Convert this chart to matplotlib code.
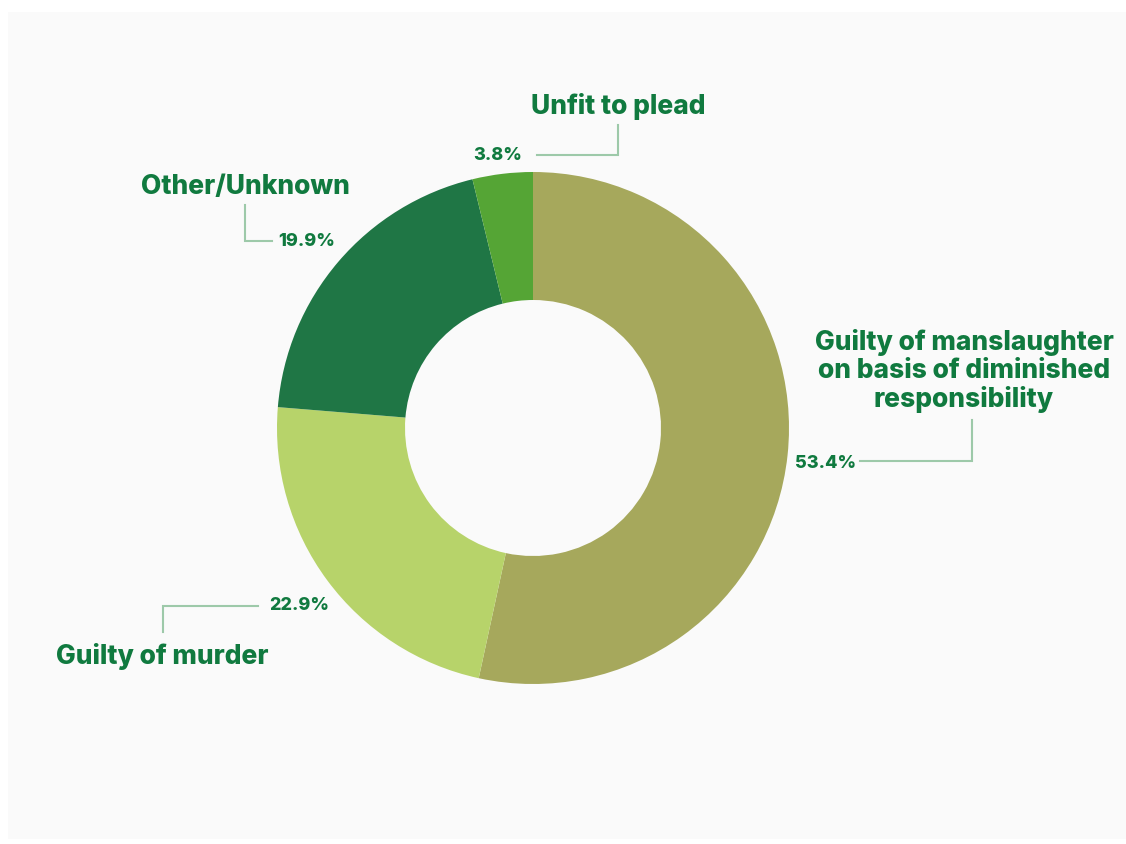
import matplotlib
matplotlib.use("Agg")
import matplotlib.pyplot as plt
from matplotlib.patches import Rectangle

plt.rcParams['font.family'] = ['Inter', 'DejaVu Sans']

# data (clockwise from 12 o'clock)
categories = ["Guilty of manslaughter\non basis of diminished\nresponsibility",
              "Guilty of murder", "Other/Unknown", "Unfit to plead"]
shares = [53.4, 22.9, 19.9, 3.8]
pct_labels = ["53.4%", "22.9%", "19.9%", "3.8%"]
colors = ["#a6a85c", "#b7d36a", "#1f7645", "#55a535"]

W, H = 1126, 844
txt_col = "#107a3f"
line_col = "#9dc9a9"

def py(y):
    # pixel row (from top) -> data y
    return H - y

fig = plt.figure(figsize=(W / 100, H / 100), dpi=100)
fig.patch.set_facecolor("white")
ax = fig.add_axes([0, 0, 1, 1])

ax.add_patch(Rectangle((8, py(839)), W - 8, 839 - 12, facecolor="#fafafa",
                       edgecolor="none", zorder=0))

ax.pie(shares, colors=colors, startangle=90, counterclock=False,
       center=(533, py(428)), radius=256, frame=True,
       wedgeprops=dict(width=128, edgecolor="none"))
ax.set_xlim(0, W)
ax.set_ylim(0, H)
ax.set_aspect("auto")
ax.axis("off")

# label placement: (label xy, pct xy, leader line points)
layout = [
    ((964, 371), (826, 464), [(860, 461), (972, 461), (972, 420)]),
    ((162, 656), (299, 606), [(258, 606), (163, 606), (163, 632)]),
    ((245, 187), (307, 241), [(245, 205), (245, 241), (272, 241)]),
    ((618, 107), (498, 156), [(537, 155), (618, 155), (618, 125)]),
]

for cat, pct, (lxy, pxy, pts) in zip(categories, pct_labels, layout):
    ax.text(lxy[0], py(lxy[1]), cat, ha="center", va="center", fontsize=19,
            fontweight=800, color=txt_col, linespacing=1.12)
    ax.text(pxy[0], py(pxy[1]), pct, ha="center", va="center", fontsize=13,
            fontweight=800, color=txt_col)
    ax.plot([p[0] for p in pts], [py(p[1]) for p in pts], color=line_col,
            lw=1.5, solid_joinstyle="miter")

fig.savefig("out.png", dpi=100, facecolor="white")
